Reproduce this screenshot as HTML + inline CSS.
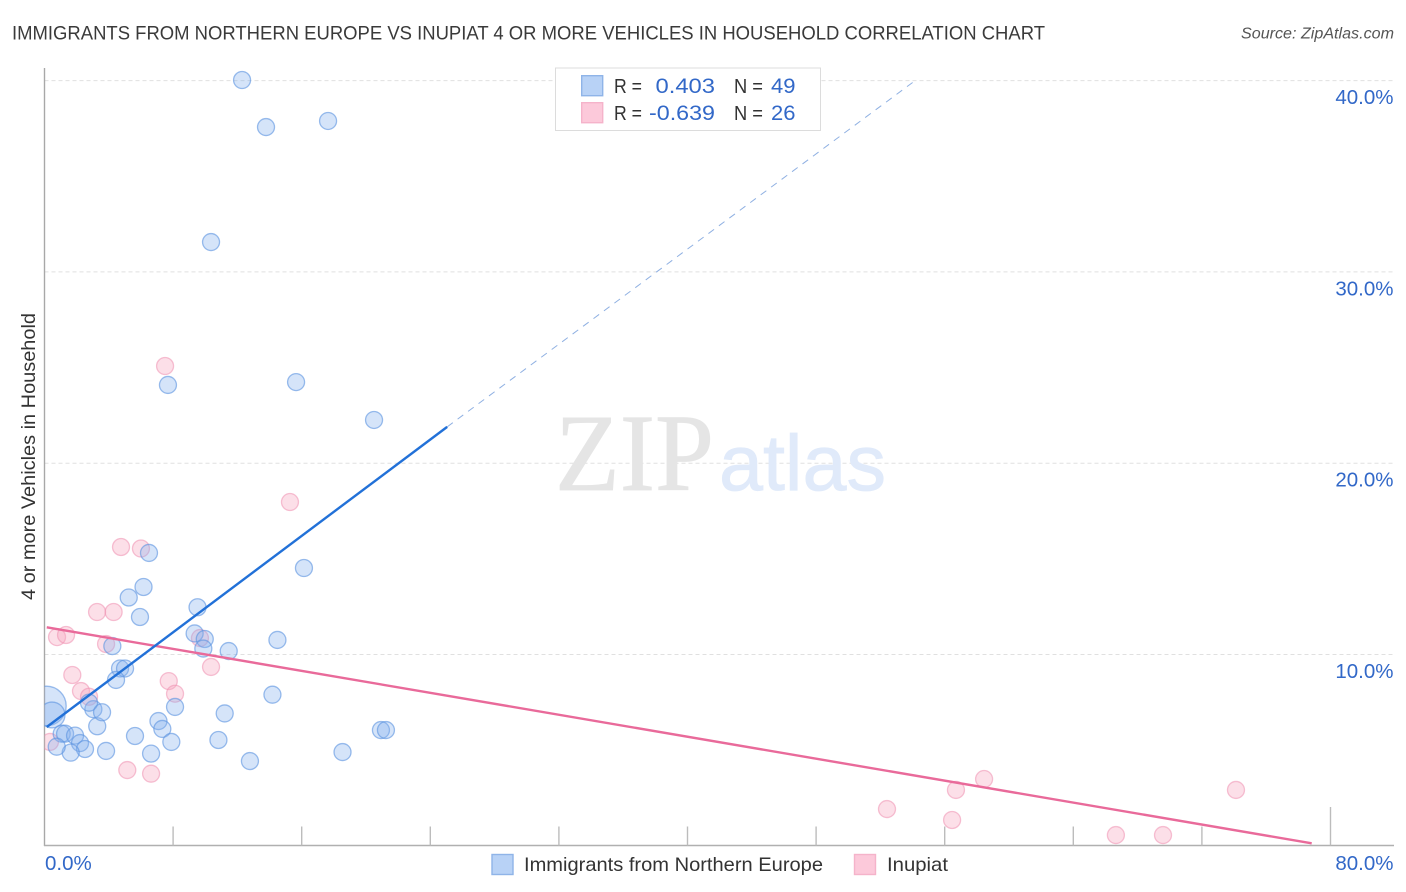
<!DOCTYPE html>
<html lang="en">
<head>
<meta charset="utf-8">
<title>Immigrants from Northern Europe vs Inupiat Correlation Chart</title>
<style>
html,body{margin:0;padding:0;background:#fff;width:1406px;height:892px;overflow:hidden}
svg{display:block;font-family:"Liberation Sans",sans-serif}
</style>
</head>
<body>
<svg id="chart" xmlns="http://www.w3.org/2000/svg" width="1406" height="892" viewBox="0 0 1406 892">
  <defs>
    <clipPath id="plot-clip"><rect x="44.5" y="60" width="1350" height="785.5"/></clipPath>
  </defs>
  <text x="12" y="39.5" font-size="19" fill="#3a3a3a" textLength="1033" lengthAdjust="spacingAndGlyphs">IMMIGRANTS FROM NORTHERN EUROPE VS INUPIAT 4 OR MORE VEHICLES IN HOUSEHOLD CORRELATION CHART</text>
  <text x="1241" y="38.5" font-size="15.5" font-style="italic" fill="#555" textLength="153" lengthAdjust="spacingAndGlyphs">Source: ZipAtlas.com</text>

  <g id="grid"></g>

  <g>
    <text x="555" y="490" font-family="'Liberation Serif',serif" font-size="110" fill="#e5e5e5" stroke="#e5e5e5" stroke-width="0.8" textLength="159" lengthAdjust="spacingAndGlyphs">ZIP</text>
    <text x="719" y="490" font-size="79" fill="#e0eafa" stroke="#e0eafa" stroke-width="0.8" textLength="167" lengthAdjust="spacingAndGlyphs">atlas</text>
  </g>

  <g id="axes"></g>
  <g id="pink-points" clip-path="url(#plot-clip)"></g>
  <g id="blue-points" clip-path="url(#plot-clip)"></g>
  <g id="trends" clip-path="url(#plot-clip)"></g>
  <g id="tick-labels"></g>

  <text transform="translate(35 456.5) rotate(-90)" text-anchor="middle" font-size="19.5" fill="#333" textLength="287" lengthAdjust="spacingAndGlyphs">4 or more Vehicles in Household</text>

  <g>
    <rect x="555.5" y="68" width="265" height="62.5" fill="#fff" stroke="#dcdcdc" stroke-width="1"/>
    <rect x="581.7" y="75.7" width="21" height="20" fill="#b8d2f6" stroke="#8fb4e8" stroke-width="1.4"/>
    <rect x="581.7" y="102.7" width="21" height="20" fill="#fcc9da" stroke="#f5b3ca" stroke-width="1.4"/>
    <g font-size="20.5" fill="#333">
      <text x="614" y="93" textLength="28" lengthAdjust="spacingAndGlyphs">R =</text>
      <text x="614" y="120" textLength="28" lengthAdjust="spacingAndGlyphs">R =</text>
      <text x="734" y="93" textLength="29" lengthAdjust="spacingAndGlyphs">N =</text>
      <text x="734" y="120" textLength="29" lengthAdjust="spacingAndGlyphs">N =</text>
    </g>
    <g font-size="21.5" fill="#3268c8">
      <text x="655.5" y="93" textLength="59.5" lengthAdjust="spacingAndGlyphs">0.403</text>
      <text x="649" y="120" textLength="66" lengthAdjust="spacingAndGlyphs">-0.639</text>
      <text x="771" y="93" textLength="24.5" lengthAdjust="spacingAndGlyphs">49</text>
      <text x="771" y="120" textLength="24.5" lengthAdjust="spacingAndGlyphs">26</text>
    </g>
  </g>

  <g>
    <rect x="492" y="854.5" width="21" height="20" fill="#b8d2f6" stroke="#8fb4e8" stroke-width="1.4"/>
    <text x="524" y="871" font-size="19.5" fill="#333" textLength="299" lengthAdjust="spacingAndGlyphs">Immigrants from Northern Europe</text>
    <rect x="854.5" y="854.5" width="21" height="20" fill="#fcc9da" stroke="#f5b3ca" stroke-width="1.4"/>
    <text x="887" y="871" font-size="19.5" fill="#333" textLength="61" lengthAdjust="spacingAndGlyphs">Inupiat</text>
  </g>
</svg>

<script>
const xTickValues = [8, 16, 24, 32, 40, 48, 56, 64, 72, 80];
const yTickValues = [10, 20, 30, 40];
const yTickLabels = ["10.0%", "20.0%", "30.0%", "40.0%"];
const xEndLabels = ["0.0%", "80.0%"];

const blueX = [0.12,0.47,12.29,13.78,17.64,10.36,15.65,7.68,20.50,6.50,16.14,6.16,5.24,5.94,9.52,9.34,9.97,9.88,11.46,14.49,4.22,4.70,5.01,4.45,14.18,8.12,11.21,7.09,7.33,7.89,5.63,6.63,10.82,12.78,18.54,20.93,21.24,1.07,1.28,1.90,2.21,2.52,1.63,0.76,3.83,3.28,3.04,2.77,3.58];
const blueY = [7.31,6.84,40.03,37.57,37.89,31.56,24.24,24.09,22.26,15.31,14.52,13.53,12.98,11.96,12.47,11.10,10.81,10.31,10.18,10.76,10.44,9.27,9.27,8.67,7.90,7.26,6.92,6.52,6.11,5.43,5.74,4.82,5.53,4.43,4.90,6.05,6.05,5.86,5.86,5.76,5.37,5.06,4.87,5.18,4.96,6.25,7.14,7.48,6.98];
const blueWeight = [5.4,2.3,1,1,1,1,1,1,1,1,1,1,1,1,1,1,1,1,1,1,1,1,1,1,1,1,1,1,1,1,1,1,1,1,1,1,1,1,1,1,1,1,1,1,1,1,1,1,1];

const pinkX = [7.50,15.27,4.76,6.00,3.27,4.30,0.78,1.34,3.83,1.73,2.27,2.77,7.73,8.12,10.36,9.67,5.15,6.63,0.34,52.41,56.70,56.46,58.45,66.65,69.58,74.12];
const pinkY = [25.08,17.97,15.62,15.54,12.22,12.22,10.91,11.02,10.55,8.93,8.09,7.79,8.61,7.95,9.35,10.86,3.96,3.77,5.43,1.92,2.92,1.35,3.49,0.56,0.56,2.92];

const blueTrendX = [0.14, 25.05];
const blueTrendY = [6.21, 21.9];
const blueForecastX = [25.05, 54.21];
const blueForecastY = [21.9, 40.03];
const pinkTrendX = [0.14, 78.83];
const pinkTrendY = [11.42, 0.13];

const NS = "http://www.w3.org/2000/svg";
const xScale = v => 44.5 + v * 16.075;
const yScale = v => 845.8 - v * 19.13;
const rScale = w => 8.5 * Math.sqrt(w);

function make(tag, attrs, parent) {
  const el = document.createElementNS(NS, tag);
  for (const k in attrs) el.setAttribute(k, attrs[k]);
  parent.appendChild(el);
  return el;
}

const grid = document.getElementById("grid");
const axes = document.getElementById("axes");
const tickLabels = document.getElementById("tick-labels");
const bluePoints = document.getElementById("blue-points");
const pinkPoints = document.getElementById("pink-points");
const trends = document.getElementById("trends");

yTickValues.forEach((v, i) => {
  const line = make("line", {x1: 44.5, x2: 1394, y1: yScale(v), y2: yScale(v), stroke: "#e0e0e0", "stroke-width": 1, "stroke-dasharray": "4 3"}, grid);
  
  
  const label = make("text", {x: 1393.5, y: yScale(v) + 23.5, "text-anchor": "end", "font-size": 20.5, fill: "#3268c8"}, tickLabels);
  
  
  label.textContent = yTickLabels[i];
});

const yAxis = make("line", {x1: 44.5, x2: 44.5, y1: 68, y2: 846, stroke: "#a8a8a8", "stroke-width": 1.4}, axes);


const xAxis = make("line", {x1: 44, x2: 1394, y1: 845.5, y2: 845.5, stroke: "#b0b0b0", "stroke-width": 1.4}, axes);



xTickValues.forEach((v, i) => {
  const top = i === xTickValues.length - 1 ? 807 : 826.5;
  const tick = make("line", {x1: xScale(v), x2: xScale(v), y1: top, y2: 845.5, stroke: "#bcbcbc", "stroke-width": 1.4}, axes);
  
  
});

const xLabelStart = make("text", {x: 45, y: 870, "font-size": 20.5, fill: "#3268c8"}, tickLabels);


xLabelStart.textContent = xEndLabels[0];
const xLabelEnd = make("text", {x: 1393.5, y: 870, "text-anchor": "end", "font-size": 20.5, fill: "#3268c8"}, tickLabels);


xLabelEnd.textContent = xEndLabels[1];

pinkX.forEach((v, i) => {
  const dot = make("circle", {cx: xScale(v), cy: yScale(pinkY[i]), r: 8.5, fill: "#f7a6c0", "fill-opacity": 0.36, stroke: "#ee8fb0", "stroke-opacity": 0.55, "stroke-width": 1.3}, pinkPoints);
  
  
});

blueX.forEach((v, i) => {
  const dot = make("circle", {cx: xScale(v), cy: yScale(blueY[i]), r: rScale(blueWeight[i]), fill: "#84b1ee", "fill-opacity": 0.34, stroke: "#5d94e0", "stroke-opacity": 0.62, "stroke-width": 1.3}, bluePoints);
  
  
});

const forecast = make("line", {x1: xScale(blueForecastX[0]), y1: yScale(blueForecastY[0]), x2: xScale(blueForecastX[1]), y2: yScale(blueForecastY[1]), stroke: "#8fb0e2", "stroke-width": 1, "stroke-dasharray": "7 6"}, trends);



const pinkTrend = make("line", {x1: xScale(pinkTrendX[0]), y1: yScale(pinkTrendY[0]), x2: xScale(pinkTrendX[1]), y2: yScale(pinkTrendY[1]), stroke: "#e96a9a", "stroke-width": 2.4}, trends);



const blueTrend = make("line", {x1: xScale(blueTrendX[0]), y1: yScale(blueTrendY[0]), x2: xScale(blueTrendX[1]), y2: yScale(blueTrendY[1]), stroke: "#2271d8", "stroke-width": 2.4}, trends);


</script>
</body>
</html>
